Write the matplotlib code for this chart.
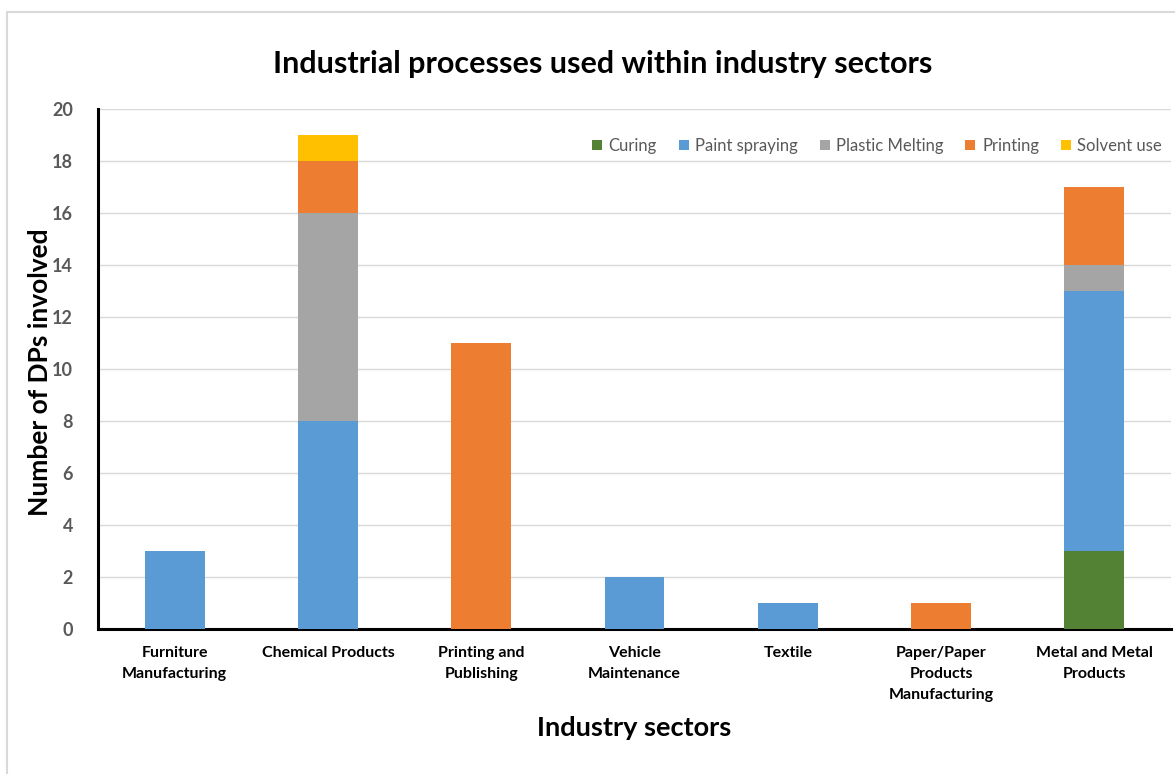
import matplotlib.pyplot as plt
import numpy as np
from matplotlib.patches import Rectangle

plt.rcParams['font.family'] = ['Lato', 'DejaVu Sans']

sectors = ["Furniture\nManufacturing", "Chemical Products", "Printing and\nPublishing",
           "Vehicle\nMaintenance", "Textile", "Paper/Paper\nProducts\nManufacturing",
           "Metal and Metal\nProducts"]
processes = ["Curing", "Paint spraying", "Plastic Melting", "Printing", "Solvent use"]
curing = [0, 0, 0, 0, 0, 0, 3]
paint_spraying = [3, 8, 0, 2, 1, 0, 10]
plastic_melting = [0, 8, 0, 0, 0, 0, 1]
printing = [0, 2, 11, 0, 0, 1, 3]
solvent_use = [0, 1, 0, 0, 0, 0, 0]
colors = ["#548235", "#5B9BD5", "#A5A5A5", "#ED7D31", "#FFC000"]

fig = plt.figure(figsize=(11.75, 7.74), dpi=100)
# light chart-area frame
fig.patches.append(Rectangle((7 / 1175, -0.1), 1.2, (774 - 12) / 774 + 0.1,
                             transform=fig.transFigure, fill=False,
                             edgecolor="#D9D9D9", linewidth=1.5))
ax = fig.add_axes([98 / 1175, 145 / 774, 1073 / 1175, 520 / 774])

x = np.arange(len(sectors))
bottom = np.zeros(len(sectors))
for name, vals, c in zip(processes, [curing, paint_spraying, plastic_melting, printing, solvent_use], colors):
    vals = np.array(vals)
    ax.bar(x, vals, 0.39, bottom=bottom, color=c, label=name, zorder=3)
    bottom += vals

ax.set_xlim(-0.5, len(sectors) - 0.5)
ax.set_ylim(0, 20)
ax.set_yticks(range(0, 21, 2))
ax.grid(axis="y", color="#D9D9D9", linewidth=1, zorder=0)
ax.set_xticks(x)
ax.set_xticklabels(sectors, fontsize=11.5, fontweight="bold", color="black", linespacing=1.65)
ax.tick_params(axis="y", labelsize=13, labelcolor="#595959", length=0, pad=18)
ax.tick_params(axis="x", length=0, pad=12)
for lbl in ax.get_yticklabels():
    lbl.set_fontweight("bold")
for s in ["top", "right"]:
    ax.spines[s].set_visible(False)
for s in ["left", "bottom"]:
    ax.spines[s].set_linewidth(2.2)
    ax.spines[s].set_color("black")

fig.text(40 / 1175, (774 - 372) / 774, "Number of DPs involved", rotation=90,
         ha="center", va="center", fontsize=19, fontweight="bold")
ax.set_xlabel("Industry sectors", fontsize=19.5, fontweight="bold", labelpad=10)
fig.text(603 / 1175, (774 - 64) / 774, "Industrial processes used within industry sectors",
         ha="center", va="center", fontsize=22, fontweight="bold")

leg = ax.legend(loc="upper right", ncol=5, frameon=False, fontsize=12,
                handlelength=0.6, handleheight=0.6, handletextpad=0.4,
                columnspacing=1.3, bbox_to_anchor=(0.998, 0.957), borderaxespad=0)
for t in leg.get_texts():
    t.set_color("#595959")

fig.savefig("out.png", dpi=100)
